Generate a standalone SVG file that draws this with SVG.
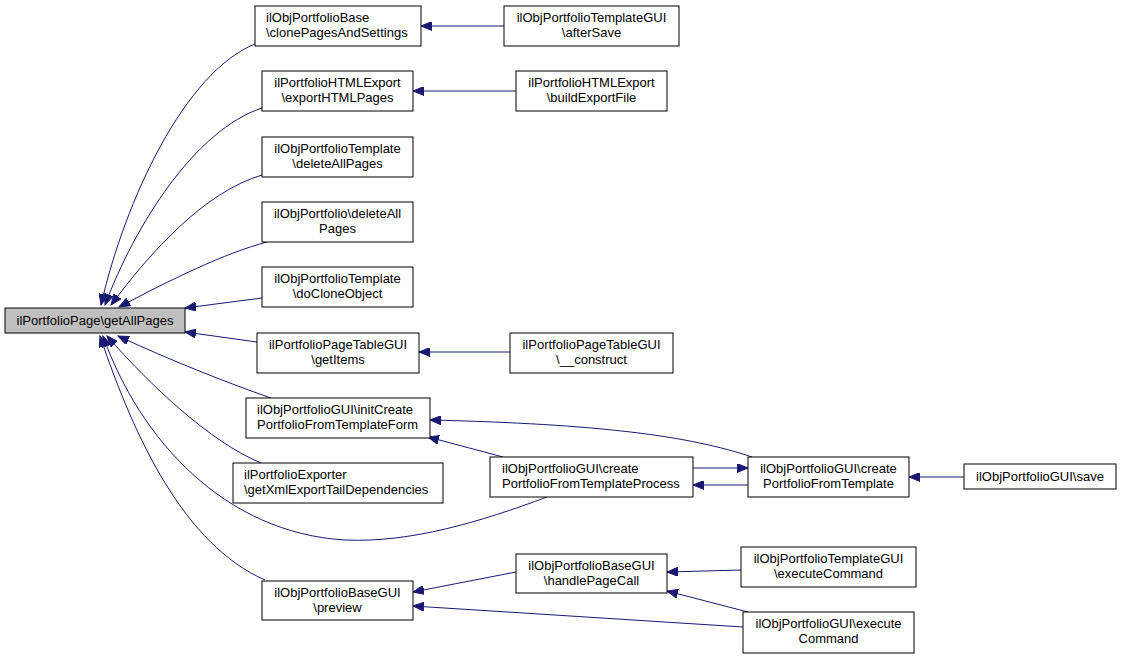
<svg xmlns="http://www.w3.org/2000/svg" width="1121" height="659" viewBox="0 0 1121 659">
<style>
.n rect{fill:#fff;stroke:#000;stroke-width:1}
.n text{font-family:"Liberation Sans",Arial,sans-serif;font-size:13px;fill:#000}
.c{text-anchor:middle}
.e path{fill:none;stroke:#191970;stroke-width:1;marker-end:url(#ah)}
</style>
<defs>
<marker id="ah" markerUnits="userSpaceOnUse" markerWidth="12" markerHeight="9" refX="11" refY="4.5" orient="auto">
<path d="M0,0 L11,4.5 L0,9 z" fill="#191970" stroke="#191970" stroke-width="1"/>
</marker>
</defs>
<rect width="1121" height="659" fill="#fff"/>
<g class="e" id="edges">
<path d="M255,44 C185,72 125,200 101,305"/>
<path d="M262,108 C195,130 135,225 105,305"/>
<path d="M262,175 C205,192 152,250 111,305"/>
<path d="M267,242 C225,253 170,280 119,307"/>
<path d="M262,298 L185,308"/>
<path d="M257,342 L185,332"/>
<path d="M271,398 C225,382 170,360 118,336"/>
<path d="M261,463 C210,442 150,385 107,336"/>
<path d="M547,497 C480,522 410,543 345,540 C225,533 140,440 103,336"/>
<path d="M265,580 C185,545 135,440 100,336"/>
<path d="M504,26 L421,26"/>
<path d="M516,91 L413,91"/>
<path d="M510,352 L419,352"/>
<path d="M752,457 C690,436 600,424 430,420"/>
<path d="M503,457 L428,437"/>
<path d="M693,468 L748,468"/>
<path d="M748,485 L693,485"/>
<path d="M964,477 L909,477"/>
<path d="M516,572 L413,592"/>
<path d="M743,627 L413,606"/>
<path d="M741,570 L667,572"/>
<path d="M748,612 L667,591"/>
</g>
<g class="n" id="n0"><rect x="5" y="308" width="180" height="25" style="fill:#bfbfbf"/><text x="95" y="325" class="c">ilPortfolioPage\getAllPages</text></g>
<g class="n" id="n1"><rect x="255" y="6" width="166" height="40"/><text x="266" y="22">ilObjPortfolioBase</text><text x="266" y="37">\clonePagesAndSettings</text></g>
<g class="n" id="n2"><rect x="262" y="71" width="151" height="40"/><text x="337.5" y="87" class="c">ilPortfolioHTMLExport</text><text x="337.5" y="102" class="c">\exportHTMLPages</text></g>
<g class="n" id="n3"><rect x="262" y="137" width="151" height="40"/><text x="337.5" y="153" class="c">ilObjPortfolioTemplate</text><text x="337.5" y="168" class="c">\deleteAllPages</text></g>
<g class="n" id="n4"><rect x="262" y="202" width="151" height="40"/><text x="337.5" y="218" class="c">ilObjPortfolio\deleteAll</text><text x="337.5" y="233" class="c">Pages</text></g>
<g class="n" id="n5"><rect x="262" y="267" width="151" height="40"/><text x="337.5" y="283" class="c">ilObjPortfolioTemplate</text><text x="337.5" y="298" class="c">\doCloneObject</text></g>
<g class="n" id="n6"><rect x="257" y="333" width="162" height="40"/><text x="338" y="349" class="c">ilPortfolioPageTableGUI</text><text x="338" y="364" class="c">\getItems</text></g>
<g class="n" id="n7"><rect x="246" y="398" width="184" height="40"/><text x="257" y="414">ilObjPortfolioGUI\initCreate</text><text x="257" y="429">PortfolioFromTemplateForm</text></g>
<g class="n" id="n8"><rect x="233" y="463" width="210" height="40"/><text x="244" y="479">ilPortfolioExporter</text><text x="244" y="494">\getXmlExportTailDependencies</text></g>
<g class="n" id="n9"><rect x="262" y="581" width="151" height="39"/><text x="337.5" y="597" class="c">ilObjPortfolioBaseGUI</text><text x="337.5" y="612" class="c">\preview</text></g>
<g class="n" id="n10"><rect x="504" y="6" width="175" height="40"/><text x="591.5" y="22" class="c">ilObjPortfolioTemplateGUI</text><text x="591.5" y="37" class="c">\afterSave</text></g>
<g class="n" id="n11"><rect x="516" y="71" width="151" height="40"/><text x="591.5" y="87" class="c">ilPortfolioHTMLExport</text><text x="591.5" y="102" class="c">\buildExportFile</text></g>
<g class="n" id="n12"><rect x="510" y="333" width="163" height="40"/><text x="591.5" y="349" class="c">ilPortfolioPageTableGUI</text><text x="591.5" y="364" class="c">\__construct</text></g>
<g class="n" id="n13"><rect x="490" y="457" width="203" height="40"/><text x="502" y="473">ilObjPortfolioGUI\create</text><text x="502" y="488">PortfolioFromTemplateProcess</text></g>
<g class="n" id="n14"><rect x="748" y="457" width="161" height="40"/><text x="828.5" y="473" class="c">ilObjPortfolioGUI\create</text><text x="828.5" y="488" class="c">PortfolioFromTemplate</text></g>
<g class="n" id="n15"><rect x="964" y="464" width="152" height="25"/><text x="1040" y="481" class="c">ilObjPortfolioGUI\save</text></g>
<g class="n" id="n16"><rect x="516" y="554" width="151" height="39"/><text x="591.5" y="570" class="c">ilObjPortfolioBaseGUI</text><text x="591.5" y="585" class="c">\handlePageCall</text></g>
<g class="n" id="n17"><rect x="741" y="547" width="175" height="40"/><text x="828.5" y="563" class="c">ilObjPortfolioTemplateGUI</text><text x="828.5" y="578" class="c">\executeCommand</text></g>
<g class="n" id="n18"><rect x="743" y="612" width="171" height="41"/><text x="828.5" y="628" class="c">ilObjPortfolioGUI\execute</text><text x="828.5" y="643" class="c">Command</text></g>
</svg>
